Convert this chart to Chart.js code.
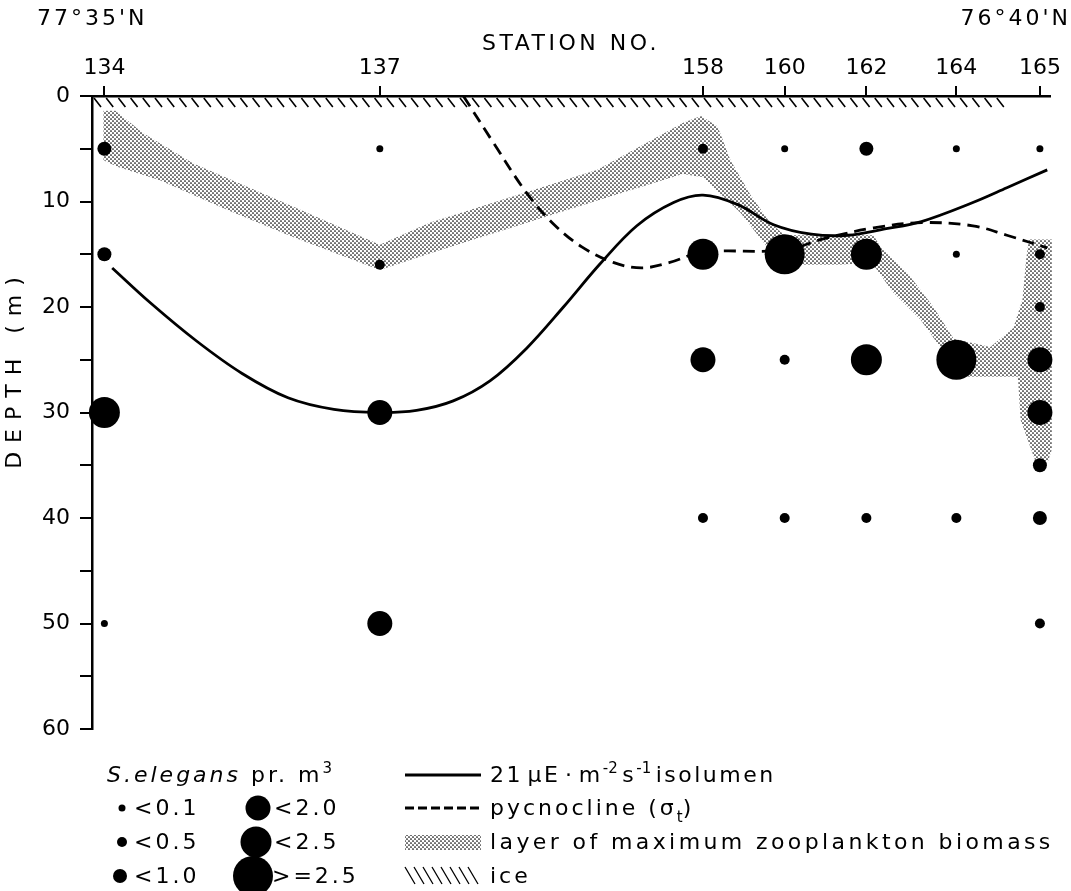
<!DOCTYPE html>
<html><head><meta charset="utf-8">
<script src="https://cdn.jsdelivr.net/npm/chart.js@4.4.1/dist/chart.umd.min.js"></script>
<style>
html,body{margin:0;padding:0;background:#fff;}
#wrap{position:relative;width:1071px;height:891px;overflow:hidden;font-family:"DejaVu Sans",sans-serif;color:#000;}
#c{position:absolute;left:0;top:0;}
.t{position:absolute;font-size:22px;letter-spacing:3px;white-space:nowrap;line-height:24px;height:24px;}
.t sup{font-size:15px;vertical-align:9px;line-height:0;letter-spacing:0;}
.t sub{font-size:15px;vertical-align:-7px;line-height:0;letter-spacing:0;}
#lg{position:absolute;left:0;top:740px;}
</style></head><body>
<div id="wrap">
<canvas id="c" width="1071" height="891"></canvas>
<div class="t" style="left:37px;top:6px;">77°35'N</div>
<div class="t" style="right:0px;top:6px;">76°40'N</div>

<svg id="lg" width="1071" height="151">
 <defs>
  <pattern id="dots" width="4" height="4" patternUnits="userSpaceOnUse"><circle cx="1" cy="1" r="0.85" fill="#000"/><circle cx="3" cy="3" r="0.85" fill="#000"/></pattern>
 </defs>
 <circle cx="122" cy="68" r="3.5"/>
 <circle cx="122" cy="102" r="5"/>
 <circle cx="120" cy="136" r="7"/>
 <circle cx="258" cy="68" r="12.5"/>
 <circle cx="256" cy="102" r="15.5"/>
 <circle cx="253" cy="136" r="20"/>
 <line x1="405" y1="35" x2="481" y2="35" stroke="#000" stroke-width="2.8"/>
 <line x1="405" y1="68" x2="481" y2="68" stroke="#000" stroke-width="2.8" stroke-dasharray="9 4"/>
 <rect x="405" y="95" width="76" height="15" fill="url(#dots)"/>
 <path d="M405 127 l10 17 M414 127 l10 17 M423 127 l10 17 M432 127 l10 17 M441 127 l10 17 M450 127 l10 17 M459 127 l10 17 M468 127 l10 17" stroke="#000" stroke-width="1.3" fill="none"/>
</svg>

<div class="t" style="left:107px;top:763px;"><i>S.elegans</i>&nbsp;pr. m<sup>3</sup></div>
<div class="t" style="left:134px;top:796px;">&lt;0.1</div>
<div class="t" style="left:134px;top:830px;">&lt;0.5</div>
<div class="t" style="left:134px;top:864px;">&lt;1.0</div>
<div class="t" style="left:274px;top:796px;">&lt;2.0</div>
<div class="t" style="left:274px;top:830px;">&lt;2.5</div>
<div class="t" style="left:272px;top:864px;">&gt;=2.5</div>
<div class="t" style="left:490px;top:763px;word-spacing:-5px;letter-spacing:2.5px;">21 µE · m<sup>-2</sup> s<sup>-1</sup> isolumen</div>
<div class="t" style="left:490px;top:796px;">pycnocline (σ<sub>t</sub>)</div>
<div class="t" style="left:490px;top:830px;letter-spacing:3.4px;">layer of maximum zooplankton biomass</div>
<div class="t" style="left:490px;top:864px;">ice</div>
</div>
<script>
// ---- data ----
const stationNames = ['134','137','158','160','162','164','165'];
const stationKm    = [0, 30, 65.2, 74.1, 83.0, 92.8, 101.9];

// S. elegans samples: station index, depth (m), abundance class
const sampleStation = [0,0,0,0, 1,1,1,1, 2,2,2,2, 3,3,3,3, 4,4,4,4, 5,5,5,5, 6,6,6,6,6,6,6,6];
const sampleDepth   = [5,15,30,50, 5,16,30,50, 5,15,25,40, 5,15,25,40, 5,15,25,40, 5,15,25,40, 5,15,20,25,30,35,40,50];
const sampleClass   = [2,2,4,0, 0,1,3,3, 1,4,3,1, 0,5,1,1, 2,4,4,1, 0,0,5,1, 0,1,1,3,3,2,2,1];
const classLabels   = ['<0.1','<0.5','<1.0','<2.0','<2.5','>=2.5'];
const classRadius   = [3.5, 5, 7, 12.5, 15.5, 20];

// 21 µE isolumen
const isoKm    = [0.85, 5.0, 10.0, 15.0, 20.0, 25.0, 30.0, 34.0, 38.0, 42.0, 46.0, 50.0, 54.0, 58.0, 62.0, 65.2, 69.0, 72.9, 77.0, 81.0, 85.0, 89.0, 94.6, 98.3, 102.7];
const isoDepth = [16.3, 19.6, 23.2, 26.3, 28.6, 29.7, 30.0, 29.8, 28.9, 27.0, 23.9, 20.0, 15.9, 12.3, 10.1, 9.4, 10.3, 12.2, 13.1, 13.2, 12.6, 11.9, 10.1, 8.7, 7.0];

// pycnocline
const pycKm    = [39.1, 42.5, 46.0, 49.0, 52.0, 55.5, 58.5, 61.5, 65.2, 74.1, 78.5, 83.8, 89.0, 94.6, 98.3, 102.7];
const pycDepth = [0, 4.6, 9.2, 12.2, 14.3, 15.8, 16.3, 15.8, 14.8, 14.6, 13.5, 12.5, 12.0, 12.3, 13.2, 14.4];

// layer of maximum zooplankton biomass (outline)
const bandKm    = [-0.1,1.2,4.2,9.7,20.6,30.0,35.5,53.7,63.1,65.0,66.8,68.2,70.4,72.5,74.1,80.0,83.8,84.5,87.5,90.3,92.5,96.5,99.0,100.0,100.4,100.7,103.2,103.2,102.8,101.4,99.8,99.5,96.0,93.5,90.7,88.9,85.9,83.6,80.0,74.0,72.0,69.3,65.2,63.0,53.7,35.5,30.0,20.6,13.4,6.1,1.4,-0.1];
const bandDepth = [1.4,1.4,3.5,6.4,10.5,14.1,12.0,7.0,2.5,1.9,2.9,6.1,9.4,12.0,13.2,13.2,13.2,14.3,16.8,20.0,23.0,23.8,22.0,19.3,15.5,13.6,13.6,33.5,34.6,34.6,30.7,26.6,26.6,26.6,23.4,21.2,18.6,15.8,16.0,16.0,14.1,11.1,7.7,7.4,9.9,14.9,16.5,13.4,10.8,8.0,6.7,6.1];

// ice cover along the surface
const iceKm = [-1.35, 98];

const depthTicks = [0,5,10,15,20,25,30,35,40,45,50,55,60];

// ---- drawing ----
const FONT = {family:'DejaVu Sans', size:22};

function dotPattern(ctx){
  const c = document.createElement('canvas'); c.width = 4; c.height = 4;
  const g = c.getContext('2d'); g.fillStyle = '#000';
  g.beginPath(); g.arc(1,1,0.85,0,Math.PI*2); g.fill();
  g.beginPath(); g.arc(3,3,0.85,0,Math.PI*2); g.fill();
  return ctx.createPattern(c,'repeat');
}

const bandIcePlugin = {
  id:'bandIce',
  beforeDatasetsDraw(chart){
    const {ctx, scales:{x,y}} = chart;
    ctx.save();
    ctx.beginPath();
    bandKm.forEach((k,i)=>{
      const px = x.getPixelForValue(k), py = y.getPixelForValue(bandDepth[i]);
      if (i) ctx.lineTo(px,py); else ctx.moveTo(px,py);
    });
    ctx.closePath();
    ctx.fillStyle = dotPattern(ctx);
    ctx.fill();
    const top = y.getPixelForValue(0);
    const x0 = x.getPixelForValue(iceKm[0]), x1 = x.getPixelForValue(iceKm[1]);
    ctx.strokeStyle = '#000'; ctx.lineWidth = 1.6;
    ctx.beginPath();
    for (let px = x0 + 2; px <= x1 - 7; px += 12.2){ ctx.moveTo(px, top + 2); ctx.lineTo(px + 7, top + 11); }
    ctx.stroke();
    ctx.restore();
  }
};

const titlePlugin = {
  id:'titleSpacing',
  beforeDraw(chart){
    [['x',0,'3.5px'],['y',-44,'9px']].forEach(([id,dy,ls])=>{
      const s = chart.scales[id];
      if (!s || s._patched) return;
      const orig = s.drawTitle;
      s.drawTitle = function(){ const c = this.ctx; c.save(); c.letterSpacing = ls; c.translate(0,dy); orig.call(this); c.restore(); };
      s._patched = true;
    });
  }
};

new Chart(document.getElementById('c'), {
  type:'scatter',
  data:{datasets:[
    {type:'line', label:'21 µE · m-2 s-1 isolumen', data: isoKm.map((k,i)=>({x:k,y:isoDepth[i]})),
     borderColor:'#000', borderWidth:2.8, pointRadius:0, tension:0.35, fill:false, order:3},
    {type:'line', label:'pycnocline', data: pycKm.map((k,i)=>({x:k,y:pycDepth[i]})),
     borderColor:'#000', borderWidth:2.8, borderDash:[12,7], pointRadius:0, tension:0.35, fill:false, order:2},
    {type:'scatter', label:'S. elegans pr. m3', data: sampleStation.map((s,i)=>({x:stationKm[s], y:sampleDepth[i]})),
     pointRadius: sampleClass.map(c=>classRadius[c]), pointHoverRadius: sampleClass.map(c=>classRadius[c]),
     backgroundColor:'#000', borderColor:'#000', borderWidth:0, clip:false, order:1}
  ]},
  options:{
    responsive:false, animation:false, devicePixelRatio:1,
    layout:{padding:{left:0, top:0, right:21, bottom:162}},
    plugins:{legend:{display:false}, tooltip:{enabled:false}},
    scales:{
      x:{type:'linear', position:'top', min:-1.35, max:103,
        afterBuildTicks: s => { s.ticks = stationKm.map(v=>({value:v})); },
        afterFit: s => { s.height = 96; },
        ticks:{autoSkip:false, maxRotation:0, minRotation:0, padding:5, color:'#000', font:FONT,
               callback:(v,i)=>stationNames[i]},
        grid:{drawOnChartArea:false, drawTicks:true, tickLength:10, color:'#000', lineWidth:2},
        border:{display:true, color:'#000', width:2.5},
        title:{display:true, text:'STATION NO.', color:'#000', font:FONT, padding:{top:31,bottom:0}}
      },
      y:{type:'linear', reverse:true, min:0, max:60,
        afterFit: s => { s.width = 92; },
        afterBuildTicks: s => { s.ticks = depthTicks.map(v=>({value:v})); },
        ticks:{color:'#000', font:FONT, padding:10, callback:v => (v % 10 === 0 ? String(v) : '')},
        grid:{drawOnChartArea:false, drawTicks:true, tickLength:12, color:'#000', lineWidth:2},
        border:{display:true, color:'#000', width:2.5},
        title:{display:true, text:'DEPTH (m)', color:'#000', font:FONT, padding:{top:2,bottom:0}}
      }
    }
  },
  plugins:[bandIcePlugin, titlePlugin]
});
</script>
</body></html>
